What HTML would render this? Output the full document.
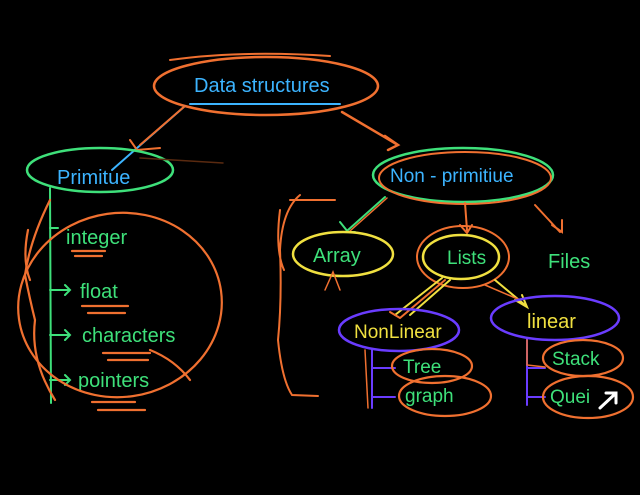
<!DOCTYPE html>
<html><head><meta charset="utf-8"><style>
html,body{margin:0;padding:0;background:#000;width:640px;height:495px;overflow:hidden}
svg{display:block}
text{font-family:"Liberation Sans",sans-serif}
</style></head><body>
<svg width="640" height="495" viewBox="0 0 640 495" fill="none" stroke-linecap="round">
<rect width="640" height="495" fill="#000"/>
<!-- Data structures -->
<ellipse cx="266" cy="86" rx="112" ry="29" stroke="#f07030" stroke-width="2.5"/>
<path d="M170 60 Q240 50 330 56" stroke="#f07030" stroke-width="2"/>
<path d="M190 104 L340 104" stroke="#3cb4ff" stroke-width="2"/>
<text x="194" y="92" font-size="20" fill="#3cb4ff">Data structures</text>
<path d="M185 106 L112 170" stroke="#3cb4ff" stroke-width="2"/>
<path d="M185 106 L140 145 M130 140 L137 150 L160 148" stroke="#f07030" stroke-width="2"/>
<path d="M342 112 L398 145 M385 136 L398 145 L388 150" stroke="#f07030" stroke-width="2.5"/>
<!-- Primitive -->
<ellipse cx="100" cy="170" rx="73" ry="22" stroke="#3ee07a" stroke-width="2.5"/>
<text x="57" y="184" font-size="20" fill="#3cb4ff">Primitue</text>
<path d="M140 158 L223 163" stroke="#5a2a10" stroke-width="1.5"/>
<path d="M50 188 L51 403" stroke="#3ee07a" stroke-width="2"/>
<path d="M50 228 L58 228 M50 290 L70 290 M65 285 L70 290 L65 295 M50 335 L70 335 M65 330 L70 335 L65 340 M50 380 L70 380 M65 375 L70 380 L65 385" stroke="#3ee07a" stroke-width="2"/>
<text x="66" y="244" font-size="20" fill="#3ee07a">integer</text>
<text x="80" y="298" font-size="20" fill="#3ee07a">float</text>
<text x="82" y="342" font-size="20" fill="#3ee07a">characters</text>
<text x="78" y="387" font-size="20" fill="#3ee07a">pointers</text>
<g stroke="#f07030" stroke-width="2.2">
<path d="M72 251 L105 251 M75 256 L102 256"/>
<path d="M82 306 L128 306 M88 313 L125 313"/>
<path d="M103 353 L150 353 M108 360 L148 360 M150 350 Q175 360 190 380"/>
<path d="M92 402 L135 402 M98 410 L145 410"/>
<ellipse cx="120" cy="305" rx="102" ry="92" transform="rotate(-8 120 305)"/>
<path d="M50 200 Q30 240 25 275 Q30 300 35 320 Q30 360 55 400"/>
<path d="M28 230 Q22 260 30 280"/>
</g>
<!-- Non-primitive -->
<ellipse cx="463" cy="175" rx="90" ry="27" stroke="#3ee07a" stroke-width="2.5"/>
<ellipse cx="465" cy="178" rx="86" ry="26" stroke="#f07030" stroke-width="2"/>
<text x="390" y="182" font-size="19" fill="#3cb4ff">Non - primitiue</text>
<!-- bracket -->
<path d="M300 195 Q282 210 280 250 Q282 300 278 340 Q282 380 292 395 L318 396 M290 200 L335 200 M280 210 Q275 250 284 270" stroke="#f07030" stroke-width="2"/>
<!-- connectors -->
<path d="M385 197 L348 230 M340 222 L348 232 L355 232" stroke="#3ee07a" stroke-width="2"/>
<path d="M387 198 L350 231" stroke="#f07030" stroke-width="1.5"/>
<path d="M465 203 L467 230 M460 225 L467 233 L472 225" stroke="#f07030" stroke-width="2"/>
<path d="M535 205 L560 232 M552 225 L562 232 L562 220" stroke="#f07030" stroke-width="2"/>
<!-- Array -->
<ellipse cx="343" cy="254" rx="50" ry="22" stroke="#f0e040" stroke-width="2.5"/>
<text x="313" y="262" font-size="20" fill="#3ee07a">Array</text>
<path d="M325 290 L333 272 L340 290" stroke="#f07030" stroke-width="1.5"/>
<!-- Lists -->
<ellipse cx="463" cy="257" rx="46" ry="31" stroke="#f07030" stroke-width="2"/>
<ellipse cx="461" cy="257" rx="38" ry="22" stroke="#f0e040" stroke-width="2.5"/>
<text x="447" y="264" font-size="19" fill="#3ee07a">Lists</text>
<text x="548" y="268" font-size="20" fill="#3ee07a">Files</text>
<path d="M442 278 L395 315 M450 280 L410 315" stroke="#f0e040" stroke-width="2"/>
<path d="M445 280 L400 318 M390 312 L400 318" stroke="#f07030" stroke-width="2"/>
<path d="M495 280 L525 305 M515 300 L527 307 L522 295" stroke="#f0e040" stroke-width="2"/>
<path d="M485 285 L520 300" stroke="#f07030" stroke-width="1.5"/>
<!-- Nonlinear -->
<ellipse cx="399" cy="330" rx="60" ry="21" stroke="#6a3cff" stroke-width="2.5"/>
<text x="354" y="338" font-size="19" fill="#f0e040">NonLinear</text>
<ellipse cx="555" cy="318" rx="64" ry="22" stroke="#6a3cff" stroke-width="2.5"/>
<text x="527" y="328" font-size="20" fill="#f0e040">linear</text>
<path d="M372 350 L372 408 M372 368 L395 368 M372 397 L395 397" stroke="#6a3cff" stroke-width="2"/>
<path d="M365 350 L368 408" stroke="#f07030" stroke-width="1.5"/>
<path d="M527 338 L527 405 M527 368 L545 368 M527 397 L545 397" stroke="#6a3cff" stroke-width="2"/>
<path d="M527 340 L527 365 L545 367" stroke="#f07030" stroke-width="1.5"/>
<ellipse cx="432" cy="366" rx="40" ry="17" stroke="#f07030" stroke-width="2.2"/>
<ellipse cx="445" cy="396" rx="46" ry="20" stroke="#f07030" stroke-width="2.2"/>
<ellipse cx="583" cy="358" rx="40" ry="18" stroke="#f07030" stroke-width="2.2"/>
<ellipse cx="588" cy="397" rx="45" ry="21" stroke="#f07030" stroke-width="2.2"/>
<text x="403" y="373" font-size="19" fill="#3ee07a">Tree</text>
<text x="405" y="402" font-size="19" fill="#3ee07a">graph</text>
<text x="552" y="365" font-size="19" fill="#3ee07a">Stack</text>
<text x="550" y="403" font-size="19" fill="#3ee07a">Quei</text>
<path d="M600 408 L615 394 M606 393 L616 393 L616 403" stroke="#fff" stroke-width="3"/>
</svg>
</body></html>
